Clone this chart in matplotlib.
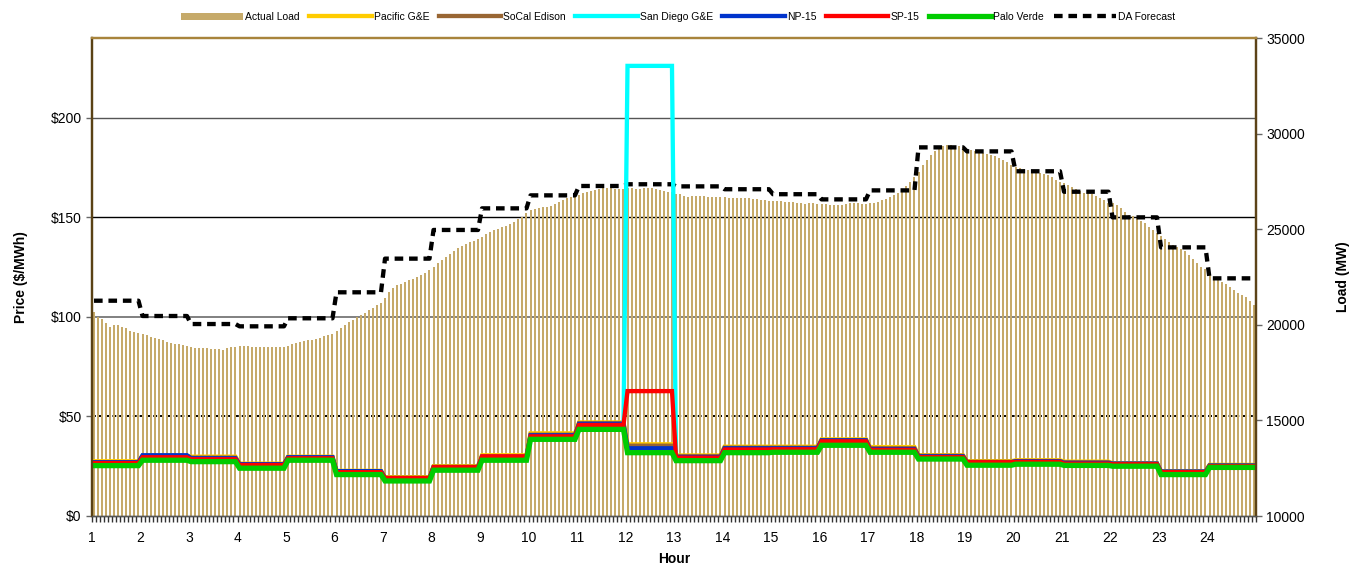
import numpy as np
import matplotlib.pyplot as plt
from matplotlib.ticker import MultipleLocator, FuncFormatter

plt.rcParams['font.family'] = ['Liberation Sans', 'DejaVu Sans']

# hourly labels and 5-minute actual load (MW), 12 readings per hour
hours = list(range(1, 25))
actual_load = [
    20670, 20390, 20290, 20080, 19900, 20010, 20010, 19900, 19810, 19680, 19640, 19590,
    19520, 19450, 19380, 19330, 19240, 19200, 19100, 19050, 19000, 19000, 18950, 18900,
    18820, 18800, 18790, 18790, 18790, 18750, 18750, 18720, 18680, 18790, 18820, 18860,
    18900, 18900, 18900, 18860, 18860, 18840, 18840, 18840, 18840, 18840, 18860, 18860,
    18890, 19000, 19050, 19100, 19150, 19200, 19220, 19270, 19330, 19400, 19470, 19520,
    19680, 19830, 19990, 20150, 20250, 20390, 20510, 20630, 20770, 20900, 21040, 21160,
    21400, 21720, 21950, 22070, 22150, 22240, 22330, 22380, 22490, 22600, 22730, 22870,
    23020, 23220, 23390, 23560, 23690, 23840, 24000, 24120, 24230, 24310, 24380, 24490,
    24590, 24750, 24850, 24960, 25030, 25110, 25180, 25270, 25380, 25520, 25660, 25860,
    25980, 26040, 26110, 26160, 26180, 26210, 26320, 26420, 26530, 26610, 26670, 26720,
    26790, 26890, 26960, 27000, 27050, 27100, 27140, 27140, 27140, 27120, 27100, 27120,
    27170, 27150, 27100, 27100, 27140, 27150, 27140, 27120, 27050, 27000, 26960, 26930,
    26840, 26840, 26740, 26700, 26740, 26740, 26740, 26740, 26680, 26680, 26680, 26680,
    26680, 26630, 26630, 26630, 26630, 26630, 26630, 26580, 26580, 26530, 26530, 26470,
    26470, 26470, 26470, 26420, 26420, 26420, 26370, 26370, 26320, 26370, 26370, 26340,
    26320, 26320, 26260, 26260, 26260, 26260, 26320, 26370, 26370, 26370, 26320, 26320,
    26390, 26390, 26440, 26530, 26580, 26680, 26790, 26890, 27000, 27260, 27450, 27750,
    27990, 28360, 28620, 28880, 29090, 29280, 29370, 29400, 29400, 29370, 29370, 29280,
    29180, 29140, 29090, 29040, 28990, 28930, 28880, 28830, 28720, 28620, 28510, 28360,
    28270, 28180, 28150, 28100, 28060, 28010, 27950, 27890, 27830, 27750, 27570, 27480,
    27430, 27310, 27220, 27100, 27000, 26910, 26880, 26840, 26740, 26630, 26530, 26390,
    26350, 26260, 26120, 25910, 25740, 25680, 25560, 25440, 25300, 25130, 24960, 24820,
    24640, 24490, 24330, 24170, 24050, 23940, 23840, 23670, 23420, 23220, 23040, 22900,
    22690, 22520, 22400, 22250, 22120, 22000, 21820, 21680, 21560, 21470, 21260, 21030,
]

# hourly prices ($/MWh)
pacific_ge = [27.5, 30.2, 29.8, 26.3, 29.8, 22.7, 19.5, 25.0, 30.5, 41.5, 47.0, 36.0,
              30.4, 34.8, 34.8, 38.5, 34.6, 30.5, 27.5, 28.0, 27.3, 26.5, 22.5, 25.7]
socal_edison = [27.0, 30.0, 29.3, 26.0, 29.5, 22.5, 19.2, 24.7, 30.0, 40.8, 46.5, 35.3,
                30.0, 34.3, 34.3, 38.0, 34.0, 30.2, 27.2, 27.6, 27.0, 26.3, 22.3, 25.4]
san_diego_ge = [26.6, 29.5, 28.5, 25.6, 29.0, 22.0, 19.0, 24.5, 30.0, 40.0, 45.7, 226.0,
                29.3, 33.4, 33.5, 37.5, 33.2, 29.6, 27.0, 27.2, 26.5, 26.0, 22.0, 25.0]
np_15 = [27.0, 30.5, 29.0, 26.0, 29.5, 22.5, 19.0, 24.5, 29.6, 40.5, 46.3, 34.0,
         29.6, 34.0, 34.0, 38.0, 33.6, 30.0, 27.0, 27.5, 26.6, 26.3, 22.3, 25.3]
sp_15 = [26.6, 29.5, 28.5, 25.6, 29.0, 22.0, 19.0, 24.5, 30.0, 40.0, 45.7, 62.7,
         29.3, 33.4, 33.5, 37.5, 33.2, 29.6, 27.0, 27.2, 26.3, 26.0, 22.0, 25.0]
palo_verde = [25.3, 28.0, 27.3, 24.0, 28.0, 20.8, 17.6, 23.0, 28.0, 38.5, 43.5, 31.8,
              27.8, 31.8, 32.0, 35.5, 32.0, 28.6, 25.5, 26.0, 25.4, 25.0, 20.8, 24.4]
# hourly day-ahead load forecast (MW)
da_forecast = [21260, 20460, 20040, 19920, 20340, 21700, 23460, 24960, 26090, 26770, 27260, 27350,
               27240, 27090, 26830, 26560, 27030, 29280, 29070, 28030, 26960, 25620, 24050, 22430]

price_gridlines = [50, 100, 150, 200]

steps = 12  # 5-minute intervals per hour
x = 1 + (np.arange(len(actual_load)) + 0.5) / steps

fig = plt.figure(figsize=(13.56, 5.67), dpi=100)
ax = fig.add_axes([92 / 1356, 51 / 567, 1164 / 1356, 478 / 567])
ax2 = ax.twinx()
ax.set_zorder(2)
ax.patch.set_visible(False)

# gridlines for the price axis, kept behind the load bars
grid_styles = [('black', (0, (2, 1.5)), 1.4), ('#808080', '-', 1.4),
               ('black', '-', 1.0), ('#555555', '-', 1.0)]
for val, (col, ls, lw) in zip(price_gridlines, grid_styles):
    ax2.plot([0, 1], [val, val], transform=ax.get_yaxis_transform(),
             color=col, linestyle=ls, linewidth=lw, zorder=0)

bars = ax2.bar(x, actual_load, width=0.5 / steps, color='#C6AA6A', zorder=1,
               label='Actual Load')
da_line, = ax2.plot(x, np.repeat(da_forecast, steps), color='black', linewidth=3.1,
                    dashes=(2.0, 1.35), dash_capstyle='butt', zorder=3, label='DA Forecast')

series = [
    ('Pacific G&E', pacific_ge, '#FFCC00', 3.1),
    ('SoCal Edison', socal_edison, '#996633', 3.1),
    ('San Diego G&E', san_diego_ge, '#00FFFF', 3.1),
    ('NP-15', np_15, '#0033CC', 3.1),
    ('SP-15', sp_15, '#FF0000', 3.1),
    ('Palo Verde', palo_verde, '#00CC00', 3.8),
]
price_lines = []
for name, vals, col, lw in series:
    ln, = ax.plot(x, np.repeat(vals, steps), color=col, linewidth=lw, label=name,
                  solid_joinstyle='miter')
    price_lines.append(ln)

ax.set_xlim(1, 25)
ax.set_ylim(0, 240)
ax2.set_ylim(10000, 35000)

ax.set_xticks(hours)
ax.xaxis.set_minor_locator(MultipleLocator(1 / steps))
ax.tick_params(axis='x', which='both', direction='out', length=4, width=1, colors='#333333',
               labelcolor='black', labelsize=10, pad=7)
ax.set_yticks([0, 50, 100, 150, 200])
ax.yaxis.set_major_formatter(FuncFormatter(lambda v, p: f'${v:.0f}'))
ax.tick_params(axis='y', direction='out', length=4, width=1, colors='#666666',
               labelcolor='black', labelsize=10)
ax2.set_yticks(range(10000, 35001, 5000))
ax2.tick_params(axis='y', direction='out', length=4, width=1, colors='#666666',
                labelcolor='black', labelsize=10)

ax.set_xlabel('Hour', fontsize=10, fontweight='bold', labelpad=5)
ax.set_ylabel('Price ($/MWh)', fontsize=10, fontweight='bold', labelpad=16)
ax2.set_ylabel('Load (MW)', fontsize=10, fontweight='bold', labelpad=22)

for a in (ax, ax2):
    a.spines['left'].set_color('#5A4215')
    a.spines['left'].set_linewidth(1.6)
    a.spines['right'].set_color('#5C4318')
    a.spines['right'].set_linewidth(1.6)
    a.spines['top'].set_color('#A8843C')
    a.spines['top'].set_linewidth(1.6)
    a.spines['bottom'].set_color('#555555')
    a.spines['bottom'].set_linewidth(1.0)

handles = [bars] + price_lines + [da_line]
labels = [h.get_label() for h in handles]
fig.legend(handles, labels, loc='center', bbox_to_anchor=(0.5, 1 - 17 / 567), ncol=8,
           frameon=False, fontsize=7.5, handlelength=6.0, handleheight=0.75,
           handletextpad=0.2, columnspacing=0.9, borderaxespad=0)

fig.savefig('out.png', dpi=100)
